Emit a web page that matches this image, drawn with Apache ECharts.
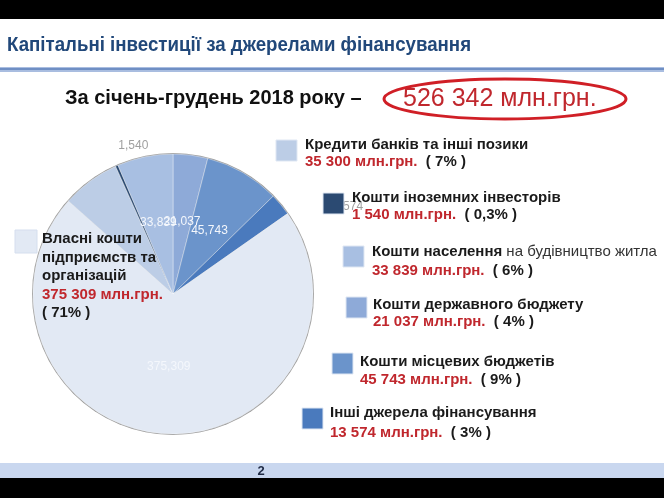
<!DOCTYPE html>
<html><head><meta charset="utf-8">
<script src="https://cdn.jsdelivr.net/npm/echarts@6/dist/echarts.min.js"></script>
<style>html,body{margin:0;padding:0;background:#fff}#c{width:664px;height:498px}</style>
</head><body><div id="c"></div>
<script>
// ---- data ----
var categories = ['Кошти державного бюджету', 'Кошти місцевих бюджетів', 'Інші джерела фінансування',
  'Власні кошти підприємств та організацій', 'Кредити банків та інші позики',
  'Кошти іноземних інвесторів', 'Кошти населення на будівництво житла'];
var values = [21037, 45743, 13574, 375309, 35300, 1540, 33839];
var shares = ['4%', '9%', '3%', '71%', '7%', '0,3%', '6%'];
var totalText = '526 342 млн.грн.';
var titleText = 'Капітальні інвестиції за джерелами фінансування';
var subtitleText = 'За січень-грудень 2018 року –';
var pageNumber = '2';

// ---- styles ----
var colors = ['#8eaad8', '#6b94cb', '#4a7abd', '#e2e9f4', '#bccde6', '#2b4a72', '#a8bfe2'];
var FONT = '"Liberation Sans", Arial, sans-serif';
var RED = '#c0272d';
var LF = 'bold 15px ' + FONT;

function fmtSpace(v) { return String(v).replace(/\B(?=(\d{3})+(?!\d))/g, ' '); }
function fmtComma(v) { return String(v).replace(/\B(?=(\d{3})+(?!\d))/g, ','); }

var chart = echarts.init(document.getElementById('c'), null, {renderer: 'canvas'});

// legend block layout: [index, squareX, squareY, textX, line1Y, lineGap]
var blocks = [
  [4, 276, 140, 305, 145, 17],
  [5, 323, 193, 352, 198, 17],
  [6, 343, 246, 372, 252, 19],
  [0, 346, 297, 373, 305, 17],
  [1, 332, 353, 360, 362, 18],
  [2, 302, 408, 330, 413, 20]
];

var graphics = [
  {type: 'rect', shape: {x: 0, y: 0, width: 664, height: 19}, style: {fill: '#000'}, z: 100},
  {type: 'rect', shape: {x: 0, y: 478, width: 664, height: 20}, style: {fill: '#000'}, z: 100},
  {type: 'rect', shape: {x: 0, y: 463, width: 664, height: 15}, style: {fill: '#c9d7ef'}, z: 100},
  {type: 'text', z: 101, style: {text: pageNumber, x: 261, y: 471, font: 'bold 13px ' + FONT, fill: '#1f2a44', textAlign: 'center', textVerticalAlign: 'middle'}},
  {type: 'text', z: 101, x: 7, scaleX: 0.89, style: {text: titleText, x: 0, y: 45, font: 'bold 21px ' + FONT, fill: '#21487a', textVerticalAlign: 'middle'}},
  {type: 'rect', shape: {x: 0, y: 67, width: 664, height: 5}, style: {fill: '#a9bde0'}, z: 100},
  {type: 'rect', shape: {x: 0, y: 68, width: 664, height: 2}, style: {fill: '#6f8fc4'}, z: 100},
  {type: 'text', z: 101, style: {text: subtitleText, x: 65, y: 98, font: 'bold 20px ' + FONT, fill: '#111', textVerticalAlign: 'middle'}},
  {type: 'text', z: 101, style: {text: totalText, x: 403, y: 99, font: '25px ' + FONT, fill: RED, textVerticalAlign: 'middle'}},
  {type: 'ellipse', z: 102, shape: {cx: 505, cy: 99, rx: 121, ry: 20}, style: {fill: 'none', stroke: '#d01f26', lineWidth: 3}}
];

blocks.forEach(function (b) {
  var i = b[0];
  graphics.push({type: 'rect', z: 110, shape: {x: b[1], y: b[2], width: 21, height: 21},
    style: {fill: colors[i], stroke: '#dfe7f3', lineWidth: 1}});
  var name = categories[i];
  var line1;
  if (i === 6) {
    line1 = '{b|Кошти населення}{n| на будівництво житла}';
  } else {
    line1 = '{b|' + name + '}';
  }
  graphics.push({type: 'text', z: 110, style: {text: line1, x: b[3], y: b[4], textVerticalAlign: 'middle',
    rich: {b: {font: LF, fill: '#1a1a1a'}, n: {font: '15px ' + FONT, fill: '#333'}}}});
  graphics.push({type: 'text', z: 110, style: {text: '{r|' + fmtSpace(values[i]) + ' млн.грн.}{k|  ( ' + shares[i] + ' )}',
    x: b[3], y: b[4] + b[5], textVerticalAlign: 'middle',
    rich: {r: {font: LF, fill: RED}, k: {font: LF, fill: '#1a1a1a'}}}});
});

// own funds block (over the pie)
graphics.push({type: 'rect', z: 110, shape: {x: 15, y: 230, width: 22, height: 23}, style: {fill: colors[3], stroke: '#d5deee', lineWidth: 1}});
var ownLines = ['Власні кошти', 'підприємств та', 'організацій'];
ownLines.forEach(function (t, k) {
  graphics.push({type: 'text', z: 110, style: {text: t, x: 42, y: 239 + k * 18.5, font: LF, fill: '#1a1a1a', textVerticalAlign: 'middle'}});
});
graphics.push({type: 'text', z: 110, style: {text: fmtSpace(values[3]) + ' млн.грн.', x: 42, y: 294.5, font: LF, fill: RED, textVerticalAlign: 'middle'}});
graphics.push({type: 'text', z: 110, style: {text: '( ' + shares[3] + ' )', x: 42, y: 313, font: LF, fill: '#1a1a1a', textVerticalAlign: 'middle'}});

var pieData = values.map(function (v, i) {
  var item = {value: v, name: categories[i], itemStyle: {color: colors[i]}};
  if (i === 4) item.label = {show: false};
  if (i === 5) item.label = {position: 'outside', color: '#a0a0a0'};
  if (i === 2) item.label = {position: 'outside', color: '#a0a0a0'};
  return item;
});

chart.setOption({
  animation: false,
  backgroundColor: '#fff',
  graphic: graphics,
  series: [
    {type: 'pie', silent: true, center: [173, 294], radius: 141, startAngle: 90,
      data: [{value: 1, itemStyle: {color: '#9a9a9a'}}], label: {show: false}, labelLine: {show: false}, z: 1},
    {type: 'pie', center: [173, 294], radius: 140, startAngle: 90, clockwise: true,
      avoidLabelOverlap: false, z: 2,
      itemStyle: {borderColor: 'rgba(255,255,255,0.6)', borderWidth: 0.6},
      label: {show: true, position: 'inside', color: '#f4f7fc', fontSize: 12, fontFamily: FONT,
        formatter: function (p) { return fmtComma(p.value); }},
      labelLine: {show: false, length: 6, length2: 0},
      labelLayout: function (p) {
        if (p.dataIndex === 2) return {dx: 36, dy: 6};
        if (p.dataIndex === 5) return {dx: 39, dy: -15};
        return {};
      },
      data: pieData}
  ]
});
</script></body></html>
